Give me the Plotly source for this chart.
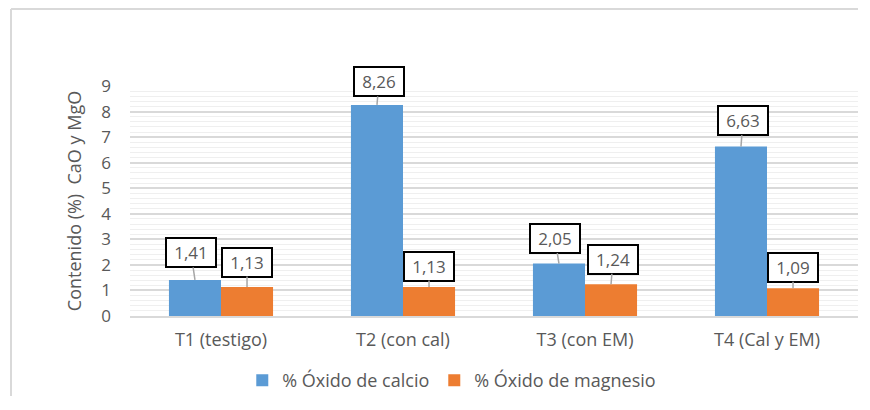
import plotly.graph_objects as go

# datos del grafico
tratamientos = ["T1 (testigo)", "T2 (con cal)", "T3 (con EM)", "T4 (Cal y EM)"]
oxido_calcio = [1.41, 8.26, 2.05, 6.63]
oxido_magnesio = [1.13, 1.13, 1.24, 1.09]
etiquetas_calcio = ["1,41", "8,26", "2,05", "6,63"]
etiquetas_magnesio = ["1,13", "1,13", "1,24", "1,09"]

azul = "#5B9BD5"
naranja = "#ED7D31"
gris_texto = "#595959"
fuente = "'Open Sans', sans-serif"

fig = go.Figure()

fig.add_trace(go.Bar(x=tratamientos, y=oxido_calcio, name="% Óxido de calcio",
                     marker=dict(color=azul, line=dict(width=0))))
fig.add_trace(go.Bar(x=tratamientos, y=oxido_magnesio, name="% Óxido de magnesio",
                     marker=dict(color=naranja, line=dict(width=0))))

# etiquetas en cajas con linea guia
half = 0.143
offs_calcio = [(-4, -27), (2, -23), (-4, -25), (2, -26)]
offs_magnesio = [(0, -25), (0, -21), (2, -25), (0, -21)]
for i in range(len(tratamientos)):
    for val, lab, dx, off in [(oxido_calcio[i], etiquetas_calcio[i], -half, offs_calcio[i]),
                              (oxido_magnesio[i], etiquetas_magnesio[i], half, offs_magnesio[i])]:
        fig.add_annotation(x=i + dx, y=val, xref="x", yref="y", text=lab,
                           showarrow=True, arrowhead=0, arrowwidth=1.5, arrowcolor="#A6A6A6",
                           ax=off[0], ay=off[1], standoff=0,
                           bordercolor="black", borderwidth=2, borderpad=2,
                           bgcolor="white", width=44,
                           font=dict(family=fuente, size=17, color=gris_texto))

# la pagina deja 8 px de margen: figura mas pequena para que no haya barras de desplazamiento
W, H = 850, 388
ml, mr, mt, mb = 122, 0, 78, 80
pw, ph = W - ml - mr, H - mt - mb

# marco exterior (solo bordes izquierdo y superior visibles)
fx = (3 - ml) / pw
fy = (H - mb - 1) / ph
fig.add_shape(type="line", xref="paper", yref="paper",
              x0=fx, x1=fx, y0=-mb / ph, y1=fy, line=dict(color="#D9D9D9", width=2))
fig.add_shape(type="line", xref="paper", yref="paper",
              x0=fx, x1=(W - ml) / pw, y0=fy, y1=fy, line=dict(color="#D9D9D9", width=2))

fig.update_layout(
    width=W, height=H,
    margin=dict(l=ml, r=mr, t=mt, b=mb, autoexpand=False),
    paper_bgcolor="white", plot_bgcolor="white",
    barmode="group", bargap=0.428, bargroupgap=0,
    font=dict(family=fuente, size=16, color=gris_texto),
    showlegend=True,
    legend=dict(orientation="h", x=0.442, xanchor="center", y=-0.2, yanchor="top",
                font=dict(size=18, color=gris_texto), itemwidth=30, traceorder="normal"),
    xaxis=dict(showgrid=False, showline=True, linecolor="#D9D9D9", linewidth=2,
               automargin=False, ticks="", ticklabelstandoff=6,
               tickfont=dict(size=18, color=gris_texto)),
    yaxis=dict(range=[0, 9], dtick=1, showgrid=True, gridcolor="#D9D9D9", gridwidth=1.5,
               automargin=False, zeroline=False, showline=False, ticks="", ticklabelstandoff=18,
               tickfont=dict(size=17, color=gris_texto),
               minor=dict(dtick=0.2, showgrid=True, gridcolor="#EFEFEF", gridwidth=1),
               title=dict(text="Contenido (%)  CaO y MgO", standoff=14,
                          font=dict(size=18, color=gris_texto))),
)

fig.write_html("out.html", config={"displayModeBar": False})
